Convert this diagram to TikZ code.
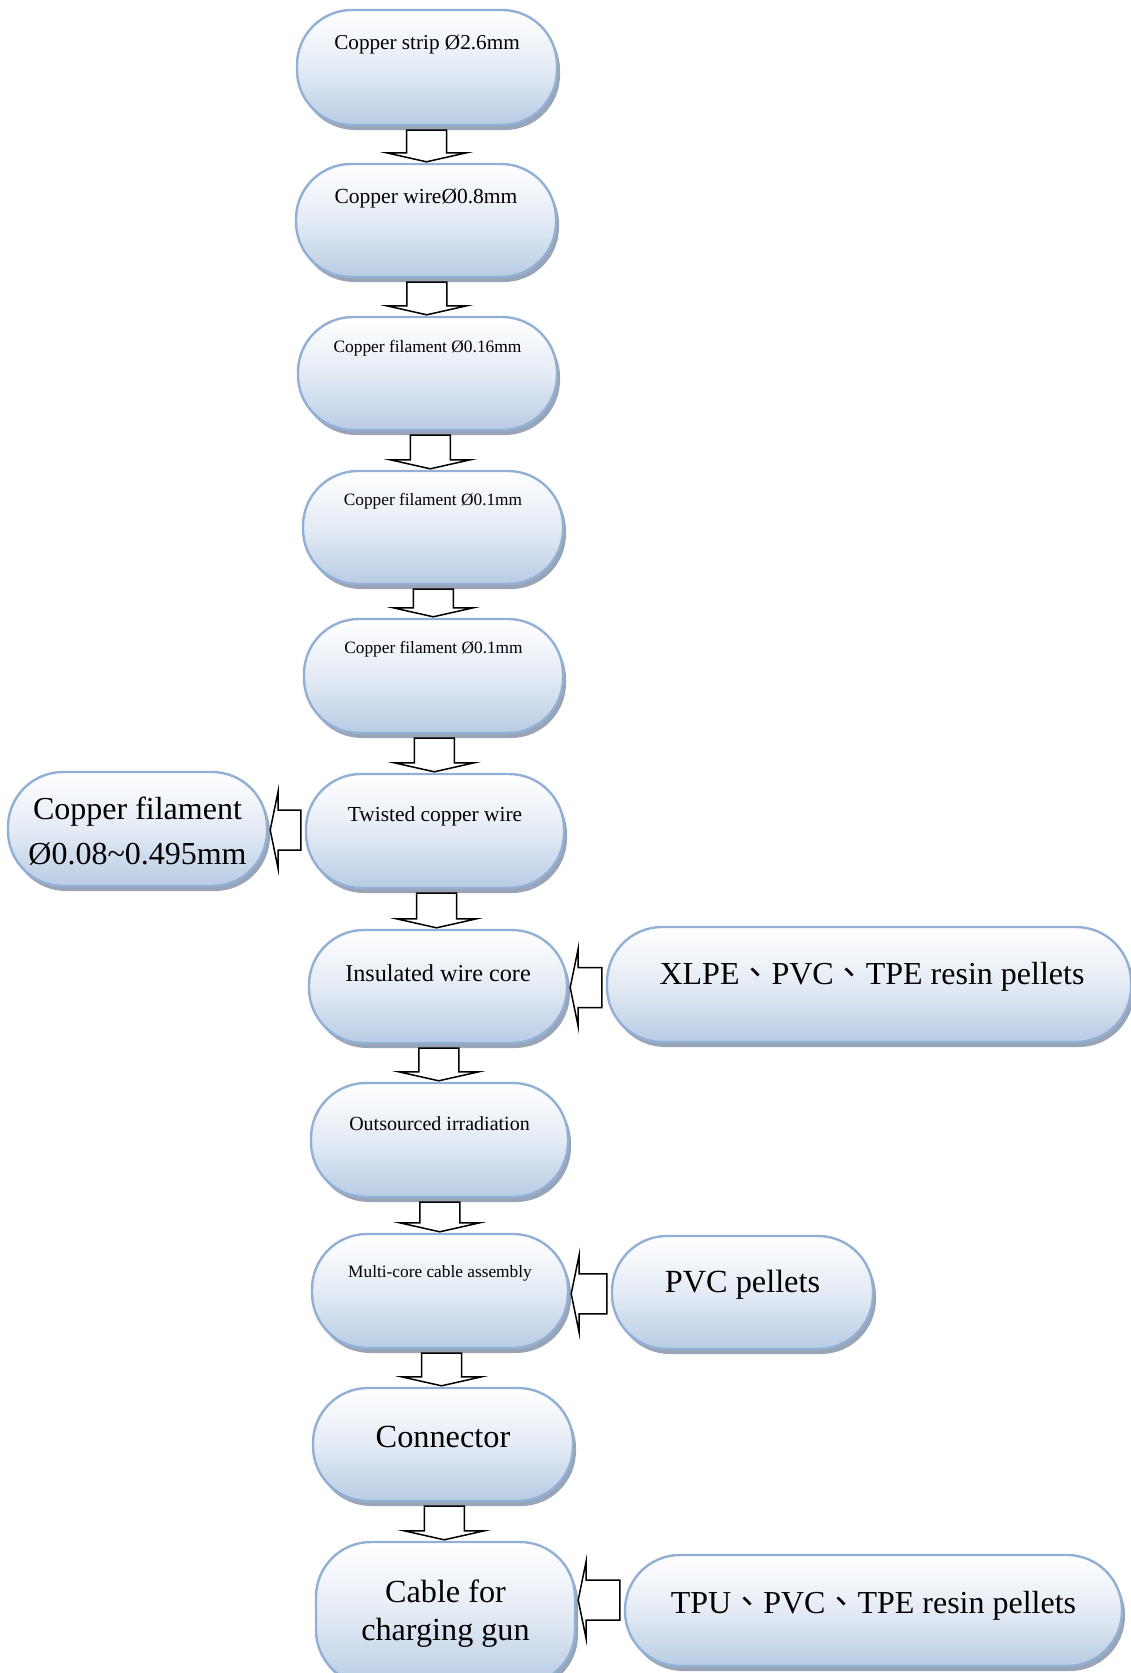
\documentclass[tikz,border=0pt]{standalone}
\usepackage{fontspec}
\setmainfont{Liberation Serif}
\newfontfamily\cjkpunct{Noto Sans CJK TC}
\usetikzlibrary{calc,shadows}

% ideographic comma between material names
\newcommand\dun{{\cjkpunct 、}}
% font size in points, with a given line spacing
\newcommand\setsize[2]{\fontsize{#1}{#2}\selectfont}

\definecolor{boxedge}{RGB}{146,176,214}
\definecolor{boxlow}{RGB}{184,204,228}
\definecolor{boxmid}{RGB}{228,235,245}
\definecolor{boxshade}{RGB}{136,150,170}

\tikzset{
  stage/.style={draw=boxedge, line width=2.4pt, rounded corners=55pt,
    top color=white, bottom color=boxlow, middle color=boxmid,
    inner sep=0pt,
    drop shadow={shadow xshift=3pt, shadow yshift=-5pt, fill=boxshade, opacity=0.85}},
  lbl/.style={inner sep=0pt, text=black, align=center},
  blockarrow/.style={draw=black, fill=white, line width=1.5pt, line join=miter}
}

% hollow block arrow pointing down, from the bottom of #1 to the top of #2
\newcommand\downarr[2]{%
  \draw[blockarrow] let \p1=($(#1.south)!0.5!(#2.north)$), \p2=(#1.south), \p3=(#2.north) in
    (\x1-20pt,\y2-4pt) -- (\x1+20pt,\y2-4pt) -- (\x1+20pt,\y3+10pt) -- (\x1+40pt,\y3+10pt)
    -- (\x1,\y3+1pt) -- (\x1-40pt,\y3+10pt) -- (\x1-20pt,\y3+10pt) -- cycle;}

% hollow block arrow pointing left, from the west side of #2 to the east side of #3
\newcommand\leftarr[3][0pt]{%
  \draw[blockarrow] let \p1=($(#2.west)!0.5!(#3.east)$), \p2=(#2.west), \p3=(#3.east) in
    (\x2-4pt,\y1+#1+20pt) -- (\x3+10pt,\y1+#1+20pt) -- (\x3+10pt,\y1+#1+39pt)
    -- (\x3+2pt,\y1+#1) -- (\x3+10pt,\y1+#1-39pt) -- (\x3+10pt,\y1+#1-20pt)
    -- (\x2-4pt,\y1+#1-20pt) -- cycle;}

\begin{document}
\begin{tikzpicture}[x=1pt, y=-1pt]
\path[use as bounding box, fill=white] (0,0) rectangle (1130,1673);

% main process chain
\node[stage, minimum width=260pt, minimum height=115pt,
  label={[name=t1, lbl, font=\setsize{21.2}{25}, yshift=22.5pt]center:Copper strip Ø2.6mm}] (s1) at (427,67.5) {};
\node[stage, minimum width=260pt, minimum height=113pt,
  label={[name=t2, lbl, font=\setsize{21.5}{25}, yshift=22.5pt]center:Copper wireØ0.8mm}] (s2) at (426,220.5) {};
\node[stage, minimum width=259pt, minimum height=113pt,
  label={[name=t3, lbl, font=\setsize{17.4}{21}, yshift=25.5pt]center:Copper filament Ø0.16mm}] (s3) at (427.5,373.5) {};
\node[stage, minimum width=260pt, minimum height=113pt,
  label={[name=t4, lbl, font=\setsize{17.3}{21}, yshift=26pt]center:Copper filament Ø0.1mm}] (s4) at (433,527.5) {};
\node[stage, minimum width=259pt, minimum height=114pt,
  label={[name=t5, lbl, font=\setsize{17.3}{21}, yshift=26.5pt]center:Copper filament Ø0.1mm}] (s5) at (433.5,676) {};
\node[stage, minimum width=258pt, minimum height=114pt,
  label={[name=t6, lbl, font=\setsize{21.4}{25}, yshift=15pt]center:Twisted copper wire}] (s6) at (435,831) {};
\node[stage, minimum width=258pt, minimum height=113pt,
  label={[name=t7, lbl, font=\setsize{24.2}{28}, yshift=13pt]center:Insulated wire core}] (s7) at (438,986.5) {};
\node[stage, minimum width=257pt, minimum height=114pt,
  label={[name=t8, lbl, font=\setsize{20}{24}, yshift=16pt]center:Outsourced irradiation}] (s8) at (439.5,1140) {};
\node[stage, minimum width=256pt, minimum height=114pt,
  label={[name=t9, lbl, font=\setsize{17.3}{21}, yshift=18pt]center:Multi-core cable assembly}] (s9) at (440,1291) {};
\node[stage, minimum width=260pt, minimum height=113pt,
  label={[name=t10, lbl, font=\setsize{32.3}{38}, yshift=8pt]center:Connector}] (s10) at (443,1444.5) {};
\node[stage, minimum width=259pt, minimum height=143pt,
  label={[name=t11, lbl, font=\setsize{32.2}{37.5}, yshift=0pt]center:{Cable for\\charging gun}}] (s11) at (445.5,1613.5) {};

% side inputs and outputs
\node[stage, minimum width=259pt, minimum height=114pt,
  label={[name=tf, lbl, font=\setsize{32}{45}, yshift=-2pt]center:{Copper filament\\Ø0.08\textasciitilde0.495mm}}] (fil) at (137.5,829) {};
\node[stage, minimum width=524pt, minimum height=115pt,
  label={[name=tx, lbl, font=\setsize{32}{38}, yshift=7.5pt, xshift=3pt]center:XLPE\dun PVC\dun TPE resin pellets}] (xlpe) at (869,984.5) {};
\node[stage, minimum width=261pt, minimum height=113pt,
  label={[name=tp, lbl, font=\setsize{32.3}{38}, yshift=8pt]center:PVC pellets}] (pvc) at (742.5,1292.5) {};
\node[stage, minimum width=497pt, minimum height=111pt,
  label={[name=tt, lbl, font=\setsize{32}{38}, yshift=5pt]center:TPU\dun PVC\dun TPE resin pellets}] (tpu) at (873.5,1610.5) {};

% flow arrows
\downarr{s1}{s2}
\downarr{s2}{s3}
\downarr{s3}{s4}
\downarr{s4}{s5}
\downarr{s5}{s6}
\downarr{s6}{s7}
\downarr{s7}{s8}
\downarr{s8}{s9}
\downarr{s9}{s10}
\downarr{s10}{s11}

\leftarr{s6}{fil}
\leftarr[-2pt]{xlpe}{s7}
\leftarr[-2pt]{pvc}{s9}
\leftarr[12pt]{tpu}{s11}
\end{tikzpicture}
\end{document}
